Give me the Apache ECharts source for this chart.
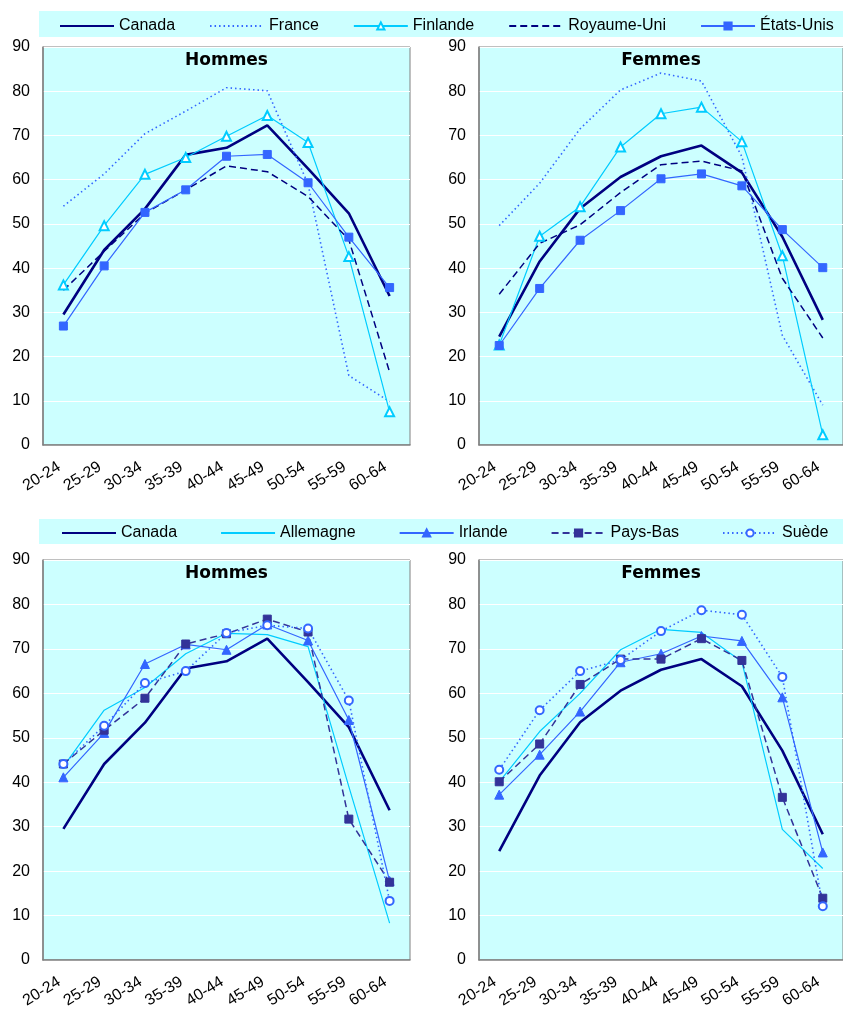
<!DOCTYPE html>
<html><head><meta charset="utf-8">
<script src="https://cdn.jsdelivr.net/npm/echarts@6/dist/echarts.min.js"></script>
<style>html,body{margin:0;padding:0;background:#fff;}#c{width:843px;height:1014px;}</style>
</head><body><div id="c"></div>
<script>
const ages = ['20-24','25-29','30-34','35-39','40-44','45-49','50-54','55-59','60-64'];
const yTicks = [0,10,20,30,40,50,60,70,80,90];
const legendTop = ['Canada','France','Finlande','Royaume-Uni','États-Unis'];
const legendBottom = ['Canada','Allemagne','Irlande','Pays-Bas','Suède'];
const panelTitles = ['Hommes','Femmes','Hommes','Femmes'];

const canadaH = [29.5, 44.1, 53.4, 65.6, 67.2, 72.3, 62.5, 52.4, 33.7];
const canadaF = [24.5, 41.5, 53.5, 60.6, 65.3, 67.7, 61.6, 47.1, 28.3];
const franceH = [54.0, 61.3, 70.4, 75.5, 80.8, 80.1, 59.0, 15.7, 9.8];
const franceF = [49.6, 59.2, 71.5, 80.3, 84.1, 82.3, 65.2, 24.8, 9.0];
const finlandeH = [36.2, 49.6, 61.2, 65.0, 69.8, 74.5, 68.4, 42.6, 7.5];
const finlandeF = [22.6, 47.2, 53.9, 67.4, 74.9, 76.4, 68.6, 42.8, 2.3];
const ruH = [35.0, 43.8, 52.4, 57.7, 63.1, 61.8, 56.2, 46.4, 16.5];
const ruF = [34.1, 45.6, 49.8, 57.1, 63.4, 64.2, 62.0, 37.7, 24.2];
const usH = [26.9, 40.5, 52.6, 57.7, 65.3, 65.7, 59.3, 47.0, 35.6];
const usF = [22.5, 35.4, 46.3, 53.0, 60.2, 61.3, 58.6, 48.7, 40.1];

const allemagneH = [43.5, 56.2, 61.3, 68.9, 73.5, 73.2, 70.5, 39.0, 8.3];
const allemagneF = [40.1, 51.4, 60.0, 69.8, 74.4, 73.7, 67.1, 29.4, 20.6];
const irlandeH = [41.1, 51.1, 66.6, 71.0, 69.8, 75.5, 71.9, 54.0, 17.8];
const irlandeF = [37.2, 46.2, 55.9, 67.0, 68.9, 72.9, 71.8, 59.1, 24.2];
const paysbasH = [44.1, 51.7, 58.9, 71.1, 73.4, 76.7, 73.8, 31.7, 17.5];
const paysbasF = [40.1, 48.6, 62.0, 67.7, 67.7, 72.3, 67.4, 36.6, 13.9];
const suedeH = [44.1, 52.7, 62.3, 65.0, 73.6, 75.3, 74.6, 58.4, 13.3];
const suedeF = [42.8, 56.2, 65.0, 67.5, 74.0, 78.7, 77.7, 63.7, 12.1];

const FONT = "Arial, 'Liberation Sans', sans-serif";
const grids = [
  {left: 43, top: 47, width: 367, height: 398},
  {left: 479, top: 47, width: 368, height: 398},
  {left: 43, top: 560, width: 367, height: 400},
  {left: 479, top: 560, width: 368, height: 400}
].map(g => Object.assign({show: true, backgroundColor: '#ccffff', borderColor: '#808080', borderWidth: 1, containLabel: false}, g));

const xAxes = grids.map((g, i) => ({
  type: 'category', gridIndex: i, data: ages, boundaryGap: true,
  axisLine: {lineStyle: {color: '#808080', width: 1.5}},
  axisTick: {inside: true, length: 6, lineStyle: {color: '#808080', width: 1}},
  axisLabel: {rotate: 32, margin: 18, padding: [0, 5, 0, 0], color: '#000', fontSize: 16, fontFamily: FONT, interval: 0}
}));
const yAxes = grids.map((g, i) => ({
  type: 'value', gridIndex: i, min: yTicks[0], max: yTicks[yTicks.length-1], interval: 10,
  axisLine: {show: true, lineStyle: {color: '#808080', width: 1.5}},
  axisTick: {show: false},
  axisLabel: {margin: 13, color: '#000', fontSize: 16, fontFamily: FONT},
  splitLine: {lineStyle: {color: '#ffffff', width: 1}}
}));

const styles = {
  'Canada': {color: '#000080', width: 2.6, type: 'solid', symbol: 'none'},
  'France': {color: '#3366ff', width: 1.6, type: [1.5, 3], symbol: 'none'},
  'Finlande': {color: '#00ccff', width: 1.2, type: 'solid', symbol: 'emptyTriangle', size: 9},
  'Royaume-Uni': {color: '#000080', width: 1.5, type: [7, 4], symbol: 'none'},
  'États-Unis': {color: '#3366ff', width: 1.2, type: 'solid', symbol: 'rect', size: 8},
  'Allemagne': {color: '#00ccff', width: 1.2, type: 'solid', symbol: 'none'},
  'Irlande': {color: '#3366ff', width: 1.2, type: 'solid', symbol: 'triangle', size: 9},
  'Pays-Bas': {color: '#333399', width: 1.5, type: [7, 4], symbol: 'rect', size: 8},
  'Suède': {color: '#3366ff', width: 1.6, type: [1.5, 3], symbol: 'emptyCircle', size: 8}
};
function mk(name, data, gi) {
  const s = styles[name];
  return {
    name, type: 'line', xAxisIndex: gi, yAxisIndex: gi, data,
    symbol: s.symbol, symbolSize: s.size || 0, showSymbol: s.symbol !== 'none',
    lineStyle: {color: s.color, width: s.width, type: s.type},
    itemStyle: {color: s.color, borderColor: s.color, borderWidth: 1},
    emphasis: {disabled: true}, animation: false
  };
}
const series = [
  mk('Canada', canadaH, 0), mk('France', franceH, 0), mk('Finlande', finlandeH, 0), mk('Royaume-Uni', ruH, 0), mk('États-Unis', usH, 0),
  mk('Canada', canadaF, 1), mk('France', franceF, 1), mk('Finlande', finlandeF, 1), mk('Royaume-Uni', ruF, 1), mk('États-Unis', usF, 1),
  mk('Canada', canadaH, 2), mk('Allemagne', allemagneH, 2), mk('Irlande', irlandeH, 2), mk('Pays-Bas', paysbasH, 2), mk('Suède', suedeH, 2),
  mk('Canada', canadaF, 3), mk('Allemagne', allemagneF, 3), mk('Irlande', irlandeF, 3), mk('Pays-Bas', paysbasF, 3), mk('Suède', suedeF, 3)
];

function legendData(names) {
  return names.map(n => styles[n].symbol === 'none'
    ? {name: n, itemStyle: {color: 'rgba(0,0,0,0)', borderColor: 'rgba(0,0,0,0)', borderWidth: 0}}
    : {name: n});
}

const titleGraphics = grids.map((g, i) => ({
  type: 'text', z: 20,
  x: g.left + g.width / 2 - (i % 2 === 1 ? 2 : 0), y: g.top + 14,
  style: {text: panelTitles[i], align: 'center', verticalAlign: 'middle', fontSize: 17, fontWeight: 'bold', fontFamily: 'DejaVu Sans, sans-serif', fill: '#000'}
}));

const chart = echarts.init(document.getElementById('c'), null, {renderer: 'canvas'});
chart.setOption({
  animation: false,
  grid: grids, xAxis: xAxes, yAxis: yAxes, series,
  legend: [
    {data: legendData(legendTop), left: 59, top: 18, padding: 0, width: 790, itemGap: 34, itemWidth: 54, itemHeight: 9, z: 10,
     textStyle: {fontSize: 16, fontFamily: FONT, color: '#000'}, selectedMode: false},
    {data: legendData(legendBottom), left: 61, top: 525, padding: 0, width: 790, itemGap: 43, itemWidth: 54, itemHeight: 9, z: 10,
     textStyle: {fontSize: 16, fontFamily: FONT, color: '#000'}, selectedMode: false}
  ],
  graphic: [
    {type: 'rect', z: 0, shape: {x: 39, y: 11, width: 810, height: 26}, style: {fill: '#ccffff'}},
    {type: 'rect', z: 0, shape: {x: 39, y: 519, width: 810, height: 25}, style: {fill: '#ccffff'}}
  ].concat(titleGraphics)
});
</script></body></html>
